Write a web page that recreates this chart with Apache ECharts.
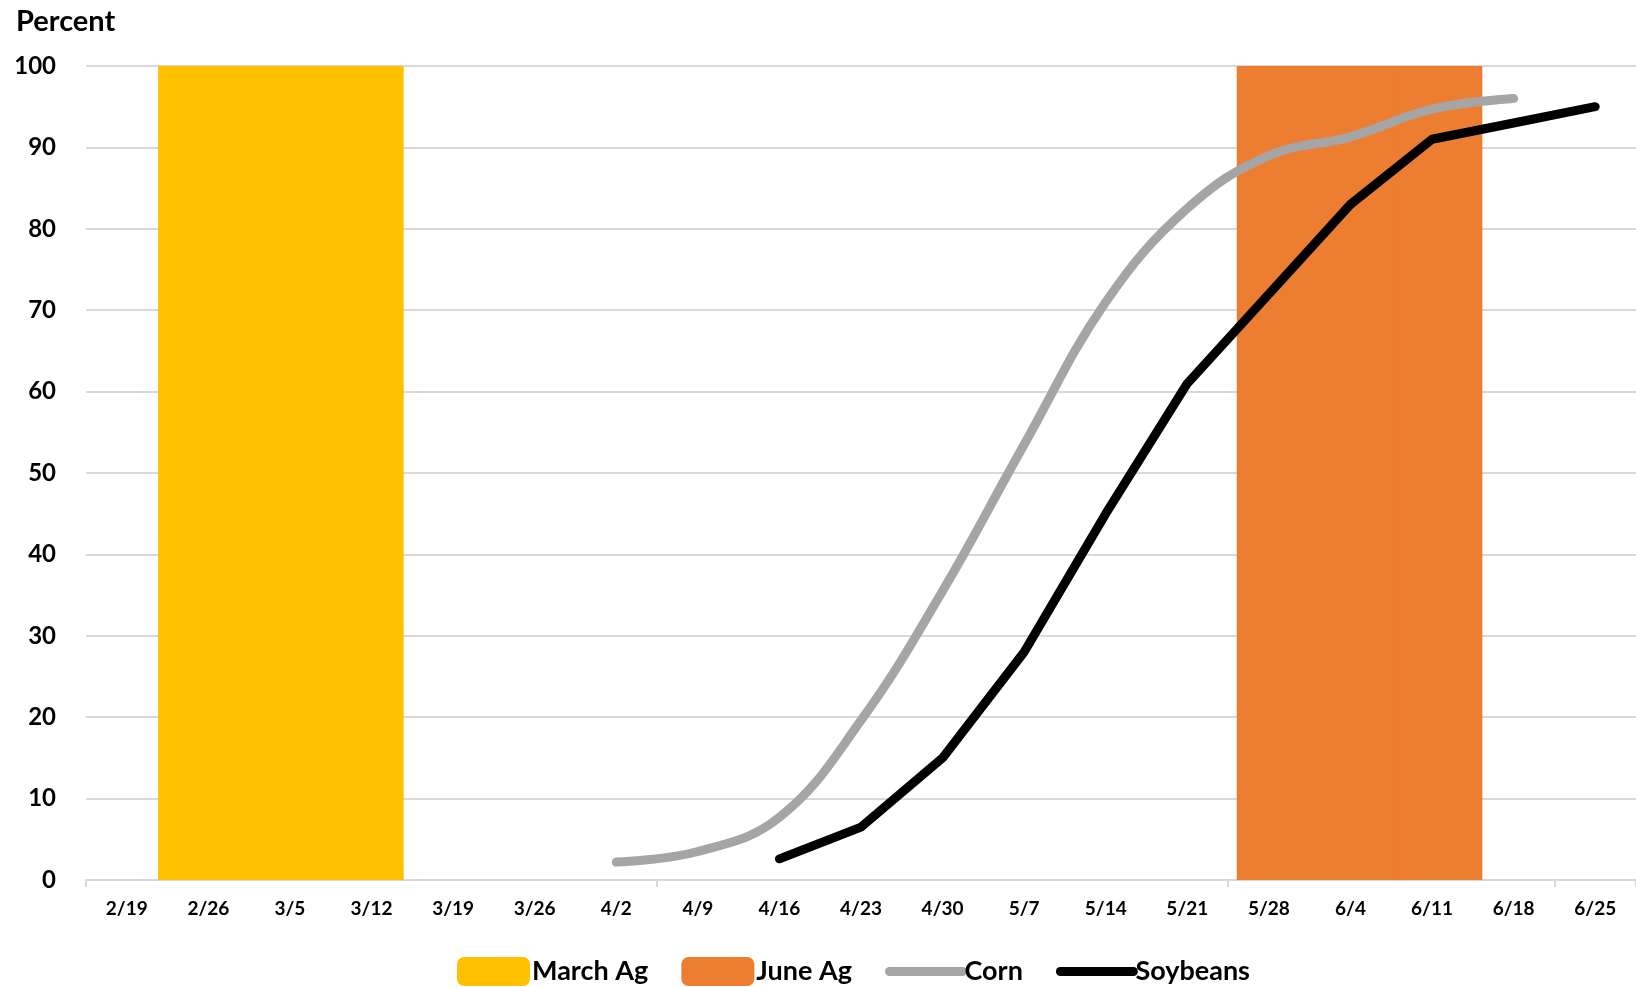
<!DOCTYPE html>
<html>
<head>
<meta charset="utf-8">
<script src="https://cdn.jsdelivr.net/npm/echarts@6/dist/echarts.min.js"></script>
<style>
html,body{margin:0;padding:0;background:#fff;}
#chart{width:1636px;height:987px;}
</style>
</head>
<body>
<div id="chart"></div>
<script>
const categories = ['2/19','2/26','3/5','3/12','3/19','3/26','4/2','4/9','4/16','4/23','4/30','5/7','5/14','5/21','5/28','6/4','6/11','6/18','6/25'];
const marchAg = [null,100,100,100,null,null,null,null,null,null,null,null,null,null,null,null,null,null,null];
const juneAg  = [null,null,null,null,null,null,null,null,null,null,null,null,null,null,100,100,100,null,null];
const corn     = [null,null,null,null,null,null,2.2,3.5,7.7,19.6,35.5,53.5,71,82.5,89,91.3,94.7,96,null];
const soybeans = [null,null,null,null,null,null,null,null,2.6,6.5,15,28,45,61,72,83,91,93,95];
const yTicks = {min:0, max:100, interval:10};

const FONT = 'Lato';
const chart = echarts.init(document.getElementById('chart'));
chart.setOption({
  animation: false,
  backgroundColor: '#ffffff',
  title: {
    text: 'Percent', left: 11, top: 2,
    textStyle: {fontFamily: FONT, fontWeight: 'bold', fontSize: 29, color: '#000'}
  },
  grid: {left: 86, right: 0, top: 66, bottom: 107, containLabel: false},
  legend: {
    left: 452, top: 952,
    itemWidth: 73, itemHeight: 29, itemGap: 33,
    textStyle: {fontFamily: FONT, fontWeight: 'bold', fontSize: 27, color: '#000', padding: [0,0,0,-3]},
    data: [
      {name: 'March Ag', icon: 'roundRect'},
      {name: 'June Ag', icon: 'roundRect'},
      {name: 'Corn', itemStyle: {opacity: 0}, lineStyle: {width: 9, cap: 'round', color: '#A5A5A5'}},
      {name: 'Soybeans', itemStyle: {opacity: 0}, lineStyle: {width: 9, cap: 'round', color: '#000000'}}
    ]
  },
  xAxis: {
    type: 'category',
    data: categories,
    boundaryGap: true,
    axisLine: {show: true, lineStyle: {color: '#d9d9d9', width: 2}},
    axisTick: {show: true, interval: 6, length: 7, lineStyle: {color: '#d9d9d9', width: 2}},
    axisLabel: {interval: 0, margin: 19, fontFamily: FONT, fontWeight: 'bold', fontSize: 19, color: '#000'}
  },
  yAxis: {
    type: 'value',
    min: yTicks.min, max: yTicks.max, interval: yTicks.interval,
    axisLine: {show: false},
    axisTick: {show: false},
    splitLine: {show: true, lineStyle: {color: '#d9d9d9', width: 2}},
    axisLabel: {margin: 30, fontFamily: FONT, fontWeight: 'bold', fontSize: 24, color: '#000'}
  },
  series: [
    {name: 'March Ag', type: 'bar', data: marchAg, barWidth: '101%', barGap: '-78%',
     itemStyle: {color: '#FFC000'}, z: 2},
    {name: 'June Ag', type: 'bar', data: juneAg, barWidth: '101%', barGap: '-78%',
     itemStyle: {color: '#ED7D31'}, z: 2},
    {name: 'Corn', type: 'line', data: corn, smooth: 0.4, symbol: 'circle', showSymbol: false,
     lineStyle: {color: '#A5A5A5', width: 9, cap: 'round', join: 'round'}, itemStyle: {color: '#A5A5A5'}, z: 3},
    {name: 'Soybeans', type: 'line', data: soybeans, smooth: false, symbol: 'circle', showSymbol: false,
     lineStyle: {color: '#000000', width: 9, cap: 'round', join: 'round'}, itemStyle: {color: '#000000'}, z: 4}
  ]
});
</script>
</body>
</html>
